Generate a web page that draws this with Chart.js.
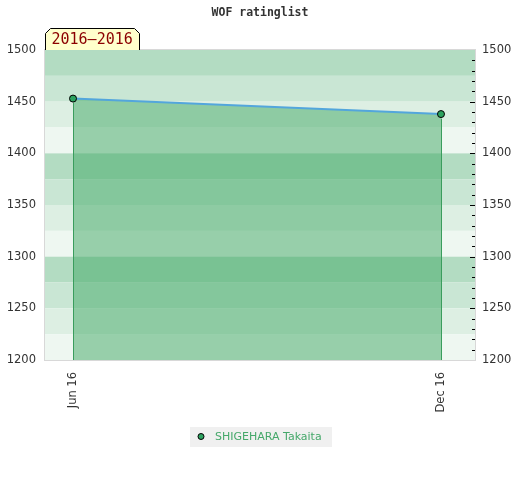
<!DOCTYPE html>
<html>
<head>
<meta charset="utf-8">
<script src="https://cdn.jsdelivr.net/npm/chart.js@4"></script>
<style>
  html, body { margin: 0; padding: 0; background: #fff; }
  #wrap { width: 520px; height: 480px; }
</style>
</head>
<body>
<div id="wrap"><canvas id="c" width="520" height="480"></canvas></div>
<script>
const chartTitle = 'WOF ratinglist';
const periodLabel = '2016–2016';
const playerName = 'SHIGEHARA Takaita';
const categories = ['Jun 16', 'Dec 16'];
const ratings = [1453, 1438];
const yMin = 1200;
const yMax = 1500;
const yStep = 50;

const bandColors = ['#b3dcc2', '#c9e6d4', '#ddefe3', '#eef7f1'];
const seriesGreen = '#2ca25f';

Chart.defaults.font.family = 'DejaVu Sans';
Chart.defaults.font.size = 11;
Chart.defaults.color = '#333';

const decor = {
  id: 'decor',
  beforeDraw(chart) {
    const ctx = chart.ctx;
    const a = chart.chartArea;
    const ys = chart.scales.y;
    ctx.save();
    ctx.fillStyle = '#fff';
    ctx.fillRect(0, 0, chart.width, chart.height);
    let i = 0;
    for (let v = ys.max; v > ys.min; v -= 25, i++) {
      const top = ys.getPixelForValue(v);
      const bot = ys.getPixelForValue(v - 25);
      ctx.fillStyle = bandColors[i % 4];
      ctx.fillRect(a.left, top, a.right - a.left, bot - top);
    }
    ctx.strokeStyle = '#d8d8d8';
    ctx.lineWidth = 1;
    ctx.strokeRect(a.left - 0.5, a.top - 0.5, a.right - a.left + 1, a.bottom - a.top + 1);
    const yr = chart.scales.y2;
    ctx.strokeStyle = '#000';
    ctx.beginPath();
    for (let v = yr.min + 10; v < yr.max; v += 10) {
      const len = (v % 50 === 0) ? 5 : 3;
      const y = Math.round(yr.getPixelForValue(v)) + 0.5;
      ctx.moveTo(a.right - len, y);
      ctx.lineTo(a.right, y);
    }
    ctx.stroke();
    ctx.restore();
  },
  afterDatasetsDraw(chart) {
    const ctx = chart.ctx;
    const meta = chart.getDatasetMeta(0);
    const pts = meta.data;
    if (!pts.length) return;
    const bottom = chart.chartArea.bottom;
    ctx.save();
    ctx.strokeStyle = '#3a9d5d';
    ctx.lineWidth = 1;
    ctx.beginPath();
    [pts[0], pts[pts.length - 1]].forEach(p => {
      const x = Math.round(p.x) + 0.5;
      ctx.moveTo(x, p.y + 4.5);
      ctx.lineTo(x, bottom);
    });
    ctx.stroke();
    ctx.restore();
  },
  afterDraw(chart) {
    const ctx = chart.ctx;
    const a = chart.chartArea;
    ctx.save();
    ctx.fillStyle = '#333';
    ctx.font = 'bold 11.5px "DejaVu Sans Mono"';
    ctx.textAlign = 'center';
    ctx.textBaseline = 'middle';
    ctx.fillText(chartTitle, 260, 13);
    const bx = a.left, by = 28, bw = 95, bh = a.top - 28, c = 5;
    ctx.beginPath();
    ctx.moveTo(bx + 0.5, by + bh);
    ctx.lineTo(bx + 0.5, by + c + 0.5);
    ctx.lineTo(bx + c + 0.5, by + 0.5);
    ctx.lineTo(bx + bw - c - 0.5, by + 0.5);
    ctx.lineTo(bx + bw - 0.5, by + c + 0.5);
    ctx.lineTo(bx + bw - 0.5, by + bh);
    ctx.fillStyle = '#ffffcc';
    ctx.fill();
    ctx.strokeStyle = '#000';
    ctx.lineWidth = 1;
    ctx.stroke();
    ctx.fillStyle = '#8b0000';
    ctx.font = '15px "DejaVu Sans Mono"';
    ctx.textAlign = 'left';
    ctx.fillText(periodLabel, bx + 6.5, by + 12.5);
    ctx.fillStyle = '#f0f0f0';
    ctx.fillRect(190, 427, 142, 20);
    ctx.beginPath();
    ctx.arc(201, 436.5, 3, 0, Math.PI * 2);
    ctx.fillStyle = seriesGreen;
    ctx.fill();
    ctx.strokeStyle = '#000';
    ctx.stroke();
    ctx.fillStyle = '#45a86a';
    ctx.font = '11px "DejaVu Sans"';
    ctx.textAlign = 'left';
    ctx.fillText(playerName, 215, 437);
    ctx.restore();
  }
};

const plainNumber = (v) => String(v);

new Chart(document.getElementById('c'), {
  type: 'line',
  data: {
    datasets: [{
      label: playerName,
      data: ratings.map((v, i) => ({ x: i, y: v })),
      borderColor: '#53a6dc',
      borderWidth: 2,
      tension: 0,
      fill: 'start',
      backgroundColor: 'rgba(64,168,100,0.5)',
      pointRadius: 3.5,
      pointBackgroundColor: seriesGreen,
      pointBorderColor: '#000',
      pointBorderWidth: 1
    }]
  },
  options: {
    responsive: false,
    animation: false,
    devicePixelRatio: 1,
    layout: { padding: { top: 50, left: 0, right: 0, bottom: 0 } },
    plugins: {
      legend: { display: false },
      title: { display: false },
      tooltip: { enabled: false }
    },
    scales: {
      x: {
        type: 'linear',
        min: -0.0761,
        max: 1.0924,
        grid: { display: false, drawTicks: false },
        border: { display: false },
        afterBuildTicks(scale) {
          scale.ticks = categories.map((c, i) => ({ value: i }));
        },
        afterFit(scale) { scale.height = 120; },
        ticks: {
          autoSkip: false,
          minRotation: 90,
          maxRotation: 90,
          padding: 12,
          color: '#333',
          font: { size: 11.5 },
          callback: (v) => categories[v]
        }
      },
      y: {
        position: 'left',
        min: yMin,
        max: yMax,
        grid: { display: false, drawTicks: false },
        border: { display: false },
        afterFit(scale) { scale.width = 45; },
        ticks: { stepSize: yStep, padding: 9, color: '#333', font: { size: 11.5 }, callback: plainNumber }
      },
      y2: {
        position: 'right',
        min: yMin,
        max: yMax,
        grid: { display: false, drawTicks: false },
        border: { display: false },
        afterFit(scale) { scale.width = 45; },
        ticks: { stepSize: yStep, padding: 7, color: '#333', font: { size: 11.5 }, callback: plainNumber }
      }
    }
  },
  plugins: [decor]
});
</script>
</body>
</html>
